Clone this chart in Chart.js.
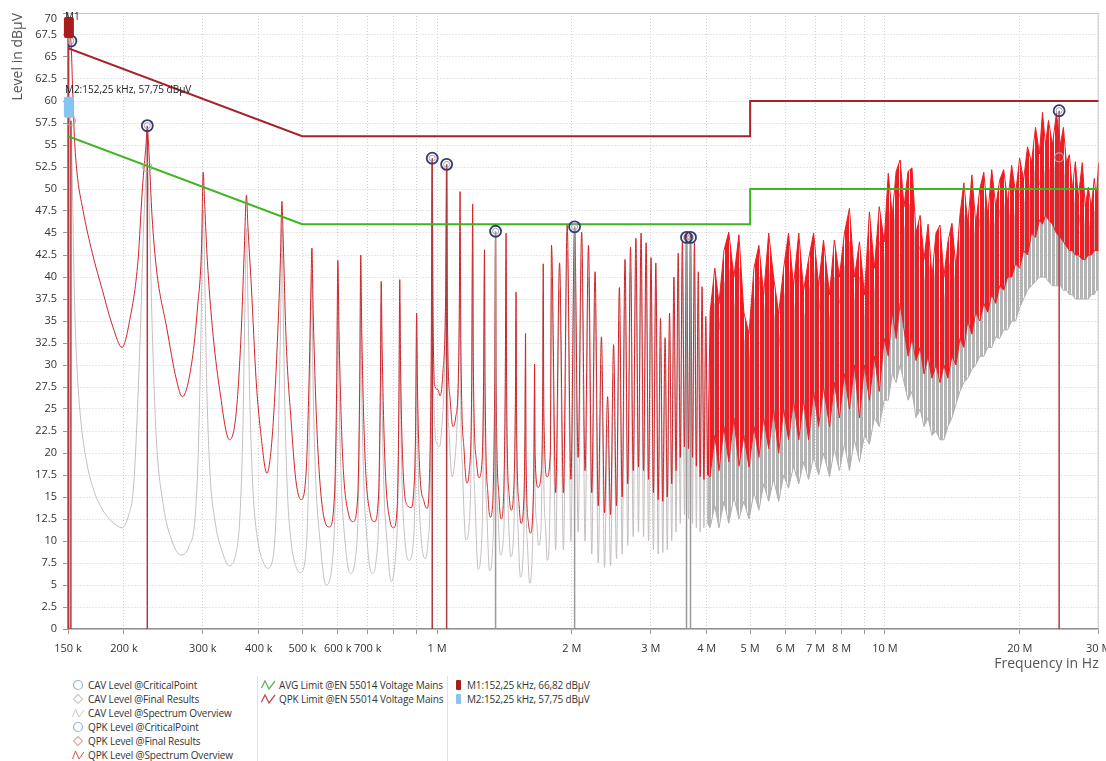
<!DOCTYPE html>
<html>
<head>
<meta charset="utf-8">
<script src="https://cdn.jsdelivr.net/npm/chart.js@4"></script>
<style>
  html, body { margin: 0; padding: 0; background: #fff; }
  body { width: 1106px; height: 761px; position: relative; overflow: hidden; font-family: "Open Sans", sans-serif; }
  #chart { position: absolute; left: 0; top: 0; }
  .col { position: absolute; top: 678px; }
  .item { height: 14px; line-height: 14px; font-size: 10px; color: #333; white-space: nowrap; letter-spacing: -0.15px; display: flex; align-items: center; }
  .item svg { margin-right: 3px; flex: none; }
  .sep { position: absolute; top: 676px; width: 1px; height: 85px; background: #e2e2e2; }
</style>
</head>
<body>
<canvas id="chart" width="1106" height="672"></canvas>

<div class="col" style="left:72px">
  <div class="item"><svg width="13" height="12"><circle cx="6" cy="6" r="4.5" fill="none" stroke="#9bb5d8" stroke-width="1.2"/></svg>CAV Level @CriticalPoint</div>
  <div class="item"><svg width="13" height="12"><path d="M6 1.5 L10.5 6 L6 10.5 L1.5 6 Z" fill="none" stroke="#c9c9c9" stroke-width="1.2"/></svg>CAV Level @Final Results</div>
  <div class="item"><svg width="13" height="12"><path d="M0.5 10 L3.5 2 L7 10 L12 3" fill="none" stroke="#c9c9c9" stroke-width="1"/></svg>CAV Level @Spectrum Overview</div>
  <div class="item"><svg width="13" height="12"><circle cx="6" cy="6" r="4.5" fill="none" stroke="#9bb5d8" stroke-width="1.2"/></svg>QPK Level @CriticalPoint</div>
  <div class="item"><svg width="13" height="12"><path d="M6 1.5 L10.5 6 L6 10.5 L1.5 6 Z" fill="none" stroke="#e3a7a7" stroke-width="1.2"/></svg>QPK Level @Final Results</div>
  <div class="item"><svg width="13" height="12"><path d="M0.5 10 L3.5 2 L7 10 L12 3" fill="none" stroke="#d9534f" stroke-width="1"/></svg>QPK Level @Spectrum Overview</div>
</div>
<div class="sep" style="left:257px"></div>
<div class="col" style="left:261px">
  <div class="item"><svg width="15" height="12"><path d="M0.5 9 L4 2 L8 10 L14 2" fill="none" stroke="#5cb85c" stroke-width="1.3"/></svg>AVG Limit @EN 55014 Voltage Mains</div>
  <div class="item"><svg width="15" height="12"><path d="M0.5 9 L4 2 L8 10 L14 2" fill="none" stroke="#c0504d" stroke-width="1.3"/></svg>QPK Limit @EN 55014 Voltage Mains</div>
</div>
<div class="sep" style="left:447px"></div>
<div class="col" style="left:455px">
  <div class="item"><svg width="9" height="12"><rect x="1" y="1" width="5" height="10" rx="1" fill="#a81c1c"/></svg>M1:152,25 kHz, 66,82 dBµV</div>
  <div class="item"><svg width="9" height="12"><rect x="1" y="1" width="5" height="10" rx="1" fill="#86c5ef"/></svg>M2:152,25 kHz, 57,75 dBµV</div>
</div>

<script>
// ---- axis ticks ----
const X_TICK_HZ = [150e3, 200e3, 300e3, 400e3, 500e3, 600e3, 700e3, 800e3, 900e3,
  1e6, 2e6, 3e6, 4e6, 5e6, 6e6, 7e6, 8e6, 9e6, 10e6, 20e6, 30e6];
const X_TICK_LABELS = ['150 k', '200 k', '300 k', '400 k', '500 k', '600 k', '700 k', '', '',
  '1 M', '2 M', '3 M', '4 M', '5 M', '6 M', '7 M', '8 M', '', '10 M', '20 M', '30 M'];
const Y_MAX = 70;

// ---- limits (EN 55014 voltage mains), kHz / dBµV ----
const LIMIT_KHZ = [150, 500, 5000, 5000, 30000];
const QPK_LIMIT = [66, 56, 56, 60, 60];
const AVG_LIMIT = [56, 46, 46, 50, 50];

// ---- spectrum 150 kHz .. 1.84 MHz, [kHz, dBµV] ----
const QPK_LOW = [
  [150, 66.0], [151.2, 67.3], [152.25, 66.8], [153.5, 62], [155, 56], [157, 52], [162, 47.6], [170, 42.7],
  [179, 38.5], [189, 34.3], [198, 32.0], [206, 35.1], [215, 41.9], [220, 50.2], [224, 55], [225.5, 57.0],
  [227.5, 54], [231, 47], [236.5, 40.8], [249, 34.3], [262, 28.3], [270, 26.4], [284, 30.6], [292, 36.6],
  [298, 43.4], [300.5, 51.9], [303, 48], [307, 41.9], [315, 34.3], [326.5, 27.5], [344, 21.5], [356, 24.5],
  [365, 33.2], [371, 42.7], [375.5, 49.3], [378, 46], [385, 38.9], [394.5, 28.3], [405, 21.8], [417, 17.7],
  [428, 21.5], [439, 31.4], [447, 42], [450.5, 48.6], [453, 45], [460, 33.2], [472, 23.8], [484, 16.9],
  [497, 14.7], [510, 17.7], [517.5, 27.5], [523, 38.9], [525.5, 43.3],
  [529, 36], [540, 22], [560, 12.5], [575, 11.6], [590, 15], [597, 28], [600.5, 41.9],
  [604, 34], [615, 20], [635, 13], [650, 12.2], [665, 15], [672, 28], [675.5, 42.5],
  [679, 34], [690, 20], [710, 13], [725, 12.2], [740, 15], [747, 27], [750.5, 39.5],
  [754, 32], [765, 19], [785, 12.3], [800, 11.5], [815, 14], [822, 26], [825.5, 39.7],
  [829, 30], [840, 18], [860, 14], [875, 13.8], [885, 15], [895, 22], [900.5, 35.9],
  [904, 28], [915, 18], [935, 14.5], [950, 13.7], [960, 16], [970, 30], [975.5, 53.3],
  [980, 35], [990, 27.5], [1005, 27.2], [1015, 26.5], [1030, 29], [1045, 38], [1050.5, 52.7],
  [1055, 35], [1070, 26], [1085, 23], [1100, 24], [1115, 28], [1121, 36], [1125.5, 49.7],
  [1130, 33], [1150, 20], [1165, 16.6], [1180, 18], [1195, 28], [1201, 48.3],
  [1205, 30], [1225, 19], [1240, 17.2], [1260, 19], [1270, 28], [1276, 43.1],
  [1280, 28], [1300, 15], [1315, 12.7], [1330, 14], [1345, 28], [1351, 45.1],
  [1355, 28], [1375, 15], [1390, 12.5], [1405, 14], [1420, 28], [1426, 45.0],
  [1430, 27], [1450, 15], [1465, 13.5], [1480, 15], [1496, 26], [1501, 38.3],
  [1505, 24], [1525, 14], [1540, 12.0], [1560, 14], [1571, 22], [1576, 33.6],
  [1580, 20], [1600, 12], [1615, 10.9], [1635, 13], [1646, 20], [1651, 30.1],
  [1655, 20], [1680, 16.1], [1710, 18], [1722, 28], [1726, 41.5],
  [1731, 25], [1760, 17.3], [1790, 20], [1801, 43.6], [1840, 15.5]
];
const CAV_LOW = [
  [150, 55], [151.2, 58.5], [152.25, 57.75], [153.5, 50], [155, 38], [157, 30], [160, 24], [165, 19],
  [172, 15.5], [181, 13.2], [190, 12], [198, 11.5], [205, 13], [210, 16], [214, 24], [218, 35], [221, 45],
  [225.5, 52.5], [228, 47], [231, 35], [236, 22], [245, 14], [256, 10], [268, 8.4], [280, 9.5], [288, 12.4],
  [293, 20], [297, 33], [300.5, 47.6], [303, 40], [306, 28], [311, 18], [320, 12], [333, 8.5], [343, 7.2],
  [356, 8.7], [364, 14], [369, 24], [372, 35], [375.5, 45.5], [378, 38], [382, 26], [388, 16], [398, 10],
  [410, 7.5], [418, 6.9], [430, 8], [438, 14], [444, 26], [448, 37], [450.5, 45.5], [453, 38], [457, 26],
  [463, 16], [472, 10], [485, 7], [495, 6.4], [508, 8], [515, 14], [520, 26], [525.5, 40.5],
  [528, 30], [535, 18], [548, 10], [565, 5.0], [582, 7], [592, 14], [597, 25], [600.5, 39],
  [603, 30], [610, 18], [623, 10], [640, 6.3], [657, 8], [667, 14], [672, 25], [675.5, 40],
  [678, 30], [685, 18], [698, 10], [715, 6.3], [732, 8], [742, 14], [747, 25], [750.5, 37],
  [753, 28], [760, 17], [773, 10], [790, 5.4], [807, 8], [817, 14], [822, 25], [825.5, 37],
  [828, 28], [835, 17], [848, 10], [865, 7.8], [882, 9], [892, 14], [897, 22], [900.5, 33],
  [903, 25], [910, 16], [923, 10], [940, 8], [955, 10], [965, 15], [971, 28], [975.5, 50],
  [978, 35], [985, 25], [1000, 21], [1012, 20.7], [1025, 23], [1040, 30], [1046, 38], [1050.5, 49],
  [1053, 33], [1065, 22], [1080, 17.3], [1095, 19], [1110, 24], [1120, 32], [1125.5, 45],
  [1128, 30], [1140, 18], [1160, 10.1], [1180, 12], [1193, 22], [1201, 44],
  [1203, 28], [1215, 15], [1235, 6.8], [1255, 9], [1267, 18], [1276, 40],
  [1278, 25], [1290, 14], [1310, 6.6], [1330, 9], [1342, 18], [1351, 45.2],
  [1353, 25], [1365, 14], [1385, 8.4], [1405, 10], [1417, 18], [1426, 42],
  [1428, 25], [1440, 14], [1460, 8.2], [1480, 10], [1492, 18], [1501, 35],
  [1503, 22], [1515, 12], [1535, 5.9], [1555, 8], [1567, 15], [1576, 30],
  [1578, 18], [1590, 10], [1610, 5.2], [1630, 8], [1642, 15], [1651, 27],
  [1653, 18], [1670, 12], [1685, 9.5], [1705, 11], [1717, 20], [1726, 38],
  [1728, 22], [1745, 12], [1762, 7.8], [1780, 10], [1792, 20], [1801, 40], [1840, 9]
];

// ---- harmonics 1.88 .. 4 MHz (peak / following valley), kHz / dBµV ----
const MID_PEAK_KHZ = [1877, 1952, 2028, 2103, 2178, 2253, 2328, 2403, 2478, 2553,
  2628, 2703, 2779, 2854, 2929, 3004, 3079, 3154, 3229, 3304,
  3379, 3454, 3529, 3605, 3680, 3755, 3830, 3905, 3980];
const MID_QPK_PEAK = [41.6, 45.9, 45.7, 45.1, 43.6, 40.6, 33.2, 26.4, 32.3, 38.8,
  42.0, 43.4, 44.4, 45.0, 43.9, 42.2, 41.6, 35.3, 33.1, 35.9,
  40.0, 42.7, 44.0, 45.0, 44.8, 43.9, 40.6, 38.9, 35.5];
const MID_CAV_PEAK = [38.5, 43, 45.7, 42, 40, 37, 30, 23, 29, 35,
  39, 40.5, 41.5, 42, 41, 39, 38.5, 32, 30, 33,
  37, 39.5, 41, 44.5, 44.5, 41, 37.5, 36, 32.5];
const MID_VALLEY_KHZ = [1915, 1990, 2065, 2140, 2215, 2290, 2365, 2440, 2515, 2590,
  2665, 2741, 2816, 2891, 2966, 3041, 3116, 3191, 3266, 3341,
  3416, 3491, 3567, 3642, 3717, 3792, 3867, 3942, 4017];
const MID_QPK_VALLEY = [15.5, 17, 19.5, 18, 15.5, 14, 13.2, 13, 14, 15,
  16.5, 18, 18.4, 18, 17, 15.5, 14.7, 14.5, 15, 16.5,
  18, 19.5, 20.7, 20.5, 19.5, 18.5, 17.3, 17, 17.5];
const MID_CAV_VALLEY = [9, 10, 11, 10, 8.5, 7.5, 7, 7.2, 8, 8.5,
  9.5, 10.5, 11, 10.5, 10, 9, 8.5, 8.7, 9, 10,
  11, 12, 13, 12.5, 12, 11.5, 11, 11.5, 12];

// ---- dense part 4 .. 30 MHz: upper / lower envelope, MHz / dBµV ----
const BAND_MHZ = [4.02, 4.07, 4.17, 4.26, 4.37, 4.48, 4.60, 4.72, 4.84, 4.97, 5.10,
  5.23, 5.36, 5.50, 5.64, 5.79, 5.94, 6.09, 6.25, 6.42, 6.58,
  6.75, 6.93, 7.11, 7.29, 7.52, 7.71, 7.91, 8.12, 8.33, 8.55,
  8.77, 9.00, 9.23, 9.47, 9.71, 9.96, 10.17, 10.38, 10.59, 10.81,
  11.03, 11.26, 11.49, 11.73, 11.98, 12.22, 12.48, 12.73, 13.00, 13.27,
  13.54, 13.82, 14.11, 14.40, 14.70, 15.00, 15.31, 15.63, 15.95, 16.28,
  16.62, 16.96, 17.31, 17.67, 18.03, 18.41, 18.79, 19.18, 19.57, 19.98,
  20.39, 20.81, 21.24, 21.68, 22.13, 22.47, 22.82, 23.17, 23.65, 24.14,
  24.64, 25.02, 25.41, 25.80, 26.20, 26.61, 27.02, 27.57, 28.00, 28.44,
  28.88, 29.33, 29.63, 30.00];
const QPK_TOP = [17.5, 36, 41, 37, 43, 45.1, 40, 44.8, 36, 33.6, 41,
  43.6, 38, 45, 40, 35.9, 41, 45, 39, 45, 38.4,
  42, 45, 39, 44.2, 38, 44.2, 40, 45, 47.8, 40,
  44, 38, 47.4, 41, 48, 44, 51.8, 47, 52, 53.3,
  48, 52, 52.4, 45, 47, 42, 46, 40, 45, 45.9,
  40, 44, 46.1, 41, 47, 50.7, 46, 51.6, 46, 50,
  51.9, 47, 52.2, 48, 51, 52.2, 48.5, 52.7, 49.5, 53.5,
  51, 54.8, 53, 57, 54, 58.7, 55, 57.8, 55, 58.6,
  55, 57, 53, 53.9, 50, 53.1, 49, 53, 48, 50.2,
  48, 51.2, 49, 53];
const QPK_BOTTOM = [17.5, 17.3, 22, 18, 23, 19, 24, 18.5, 22, 18.4, 23,
  19.5, 24, 20.5, 25, 20, 25, 21.5, 26, 21.5, 26,
  21.5, 27, 23, 27.5, 23, 28, 24, 29, 25, 30,
  24, 30, 26, 31, 27, 33, 31, 36, 33, 37,
  34, 31, 33, 30.5, 32, 29, 31, 28.5, 30, 28,
  30, 28.5, 31, 30, 33, 32, 35, 33.5, 36, 35,
  37, 36, 38, 37, 39, 38.5, 40, 40, 41.5, 41,
  43, 42.5, 45, 44.5, 46.5, 46, 47, 46.5, 46, 45,
  44.5, 44, 43.5, 43, 43, 42.5, 42.5, 42, 42, 42.5,
  42.5, 43, 43, 43];
const CAV_TOP = [12, 32, 37, 34, 39, 41, 36, 41, 33, 30, 37,
  40, 35, 41, 36, 32, 37, 41, 35, 41, 35,
  38, 41, 36, 40, 35, 40, 37, 41, 44, 37,
  40, 35, 43, 38, 44, 41, 48, 44, 48, 49.5,
  45, 48, 48.5, 42, 43.5, 39, 42.5, 37, 41.5, 42,
  37, 40.5, 42.5, 38, 43.5, 47, 43, 48, 43, 46.5,
  48, 43.5, 48.5, 44.5, 47.5, 48.5, 45, 49, 46, 49.5,
  47.5, 51, 49.5, 52.5, 50.5, 53, 51, 52.5, 51, 53.6,
  51, 52.5, 49.5, 50, 46.5, 49, 45.5, 49, 44.5, 46.5,
  44.5, 47.5, 45.5, 49];
const CAV_BOTTOM = [12, 11.5, 14, 11.5, 14.5, 12, 15, 12.5, 14.5, 12.5, 15.5,
  13.5, 16.5, 14.5, 17, 14.5, 17.5, 16, 18.5, 16.5, 19,
  17, 19.5, 17.5, 20, 17.3, 20.5, 18, 21, 18, 21.5,
  19, 22, 21, 24, 23, 26, 26, 29, 28, 30,
  28, 26, 27, 24, 25, 23, 24, 22, 22.5, 21.5,
  21.5, 23, 24, 25.5, 27, 28, 28.5, 29.5, 30, 31,
  31, 32, 32, 33.2, 33, 34, 34, 35, 35, 36.5,
  37.5, 38.5, 39, 39.5, 40, 40, 40, 39.5, 39, 39,
  39, 38.5, 38.5, 38, 38, 37.5, 37.5, 37.5, 37.5, 37.5,
  38, 38, 38.5, 38.5];

// ---- critical points and final results, kHz / dBµV ----
const CRITICAL_KHZ = [152.25, 225.5, 975.5, 1050.5, 1351, 2028, 3605, 3680, 24480];
const CRITICAL_LEVEL = [66.82, 57.2, 53.5, 52.8, 45.2, 45.7, 44.5, 44.5, 58.9];
const FINAL_KHZ = [152.25, 225.5, 24480];
const FINAL_LEVEL = [57.75, 52.5, 53.6];
const QPK_STICK_KHZ = [150.5, 152.25, 225.5, 975.5, 1050.5, 24480];
const QPK_STICK_LEVEL = [66.82, 57.75, 57.2, 53.5, 52.8, 58.9];
const CAV_STICK_KHZ = [1351, 2028, 3605, 3680];
const CAV_STICK_LEVEL = [45.2, 45.7, 44.5, 44.5];

// ---- markers ----
const MARKER_KHZ = [152.25, 152.25];
const MARKER_LEVEL = [66.82, 57.75];
const MARKER_TEXT = ['M1', 'M2:152,25 kHz, 57,75 dBµV'];
const MARKER_COLOR = ['#a81c1c', '#86c5ef'];

const FONT = '"Open Sans", sans-serif';

const toXY = pairs => pairs.map(([k, v]) => ({ x: k * 1000, y: v }));
const zip = (khz, levels) => khz.map((k, i) => ({ x: k * 1000, y: levels[i] }));
const bandXY = levels => BAND_MHZ.map((m, i) => ({ x: m * 1e6, y: levels[i] }));

function zigzag(peakKHz, peaks, valleyKHz, valleys) {
  const out = [];
  peakKHz.forEach((k, i) => {
    out.push({ x: k * 1000, y: peaks[i] });
    out.push({ x: valleyKHz[i] * 1000, y: valleys[i] });
  });
  return out;
}

function sticks(khz, levels) {
  const out = [];
  khz.forEach((k, i) => {
    out.push({ x: k * 1000, y: 0 }, { x: k * 1000, y: levels[i] }, { x: k * 1000, y: null });
  });
  return out;
}

// vertical hatch so the dense band reads as many thin spectral lines
function stripes(color, w, gap) {
  const c = document.createElement('canvas');
  c.width = w + gap;
  c.height = 1;
  const g = c.getContext('2d');
  g.fillStyle = color;
  g.fillRect(0, 0, w, 1);
  return g.createPattern(c, 'repeat');
}

const lineDefaults = { pointRadius: 0, borderWidth: 1, tension: 0, fill: false, spanGaps: false };

// border on top / right of the plot, plus the top "70" label sitting a bit lower
const frame = {
  id: 'frame',
  beforeDatasetsDraw(chart) {
    const { ctx, chartArea: a } = chart;
    ctx.save();
    ctx.strokeStyle = '#c8c8c8';
    ctx.lineWidth = 1;
    ctx.beginPath();
    ctx.moveTo(a.left, a.top + 0.5);
    ctx.lineTo(a.right - 0.5, a.top + 0.5);
    ctx.lineTo(a.right - 0.5, a.bottom);
    ctx.stroke();
    ctx.font = '11px ' + FONT;
    ctx.fillStyle = '#333';
    ctx.textAlign = 'right';
    ctx.textBaseline = 'middle';
    ctx.fillText(String(Y_MAX), a.left - 11, a.top + 6);
    ctx.restore();
  }
};

// M1 / M2 marker flags
const markers = {
  id: 'markers',
  afterDatasetsDraw(chart) {
    const { ctx, scales: { x, y }, chartArea } = chart;
    ctx.save();
    MARKER_KHZ.forEach((k, i) => {
      const px = x.getPixelForValue(k * 1000) - 2;
      const py = y.getPixelForValue(MARKER_LEVEL[i]);
      const top = py - 24;
      ctx.font = '10px ' + FONT;
      ctx.fillStyle = '#222';
      ctx.textBaseline = 'middle';
      ctx.textAlign = 'left';
      ctx.fillText(MARKER_TEXT[i], px - 4, Math.max(top - 7, chartArea.top + 4));
      ctx.fillStyle = MARKER_COLOR[i];
      ctx.beginPath();
      ctx.roundRect(px - 5, top, 10, 21, 2);
      ctx.fill();
    });
    ctx.restore();
  }
};

Chart.defaults.font.family = FONT;
Chart.defaults.color = '#333';

new Chart(document.getElementById('chart'), {
  type: 'line',
  data: {
    datasets: [
      { label: 'critical', data: zip(CRITICAL_KHZ, CRITICAL_LEVEL), showLine: false,
        pointRadius: 5.5, pointBorderWidth: 1.8, pointBorderColor: '#363b6c', pointBackgroundColor: 'rgba(0,0,0,0)' },
      { label: 'critical inner', data: zip(CRITICAL_KHZ, CRITICAL_LEVEL), showLine: false,
        pointRadius: 3, pointBorderWidth: 1, pointBorderColor: '#9aa0b4', pointBackgroundColor: 'rgba(0,0,0,0)' },
      { label: 'final', data: zip(FINAL_KHZ, FINAL_LEVEL), showLine: false,
        pointRadius: 4.5, pointBorderWidth: 1.2, pointBorderColor: '#a9a9a9', pointBackgroundColor: 'rgba(0,0,0,0)' },
      { ...lineDefaults, label: 'AVG Limit', data: zip(LIMIT_KHZ, AVG_LIMIT), borderColor: '#3fb521', borderWidth: 2 },
      { ...lineDefaults, label: 'QPK Limit', data: zip(LIMIT_KHZ, QPK_LIMIT), borderColor: '#a52329', borderWidth: 2 },
      { ...lineDefaults, label: 'QPK final', data: sticks(QPK_STICK_KHZ, QPK_STICK_LEVEL), borderColor: '#b23a3e', borderWidth: 1.5 },
      { ...lineDefaults, label: 'CAV final', data: sticks(CAV_STICK_KHZ, CAV_STICK_LEVEL), borderColor: '#999999', borderWidth: 1.5 },
      { ...lineDefaults, label: 'QPK spectrum', cubicInterpolationMode: 'monotone',
        data: toXY(QPK_LOW).concat(zigzag(MID_PEAK_KHZ, MID_QPK_PEAK, MID_VALLEY_KHZ, MID_QPK_VALLEY)),
        borderColor: '#d0242a' },
      { ...lineDefaults, label: 'QPK top', data: bandXY(QPK_TOP), borderColor: '#ee1d23' },
      { ...lineDefaults, label: 'QPK bottom', data: bandXY(QPK_BOTTOM), borderColor: '#e0262b',
        fill: '-1', backgroundColor: stripes('#ee1d23', 4, 1) },
      { ...lineDefaults, label: 'CAV spectrum', cubicInterpolationMode: 'monotone',
        data: toXY(CAV_LOW).concat(zigzag(MID_PEAK_KHZ, MID_CAV_PEAK, MID_VALLEY_KHZ, MID_CAV_VALLEY)),
        borderColor: '#c6bebe' },
      { ...lineDefaults, label: 'CAV top', data: bandXY(CAV_TOP), borderColor: '#b5b5b5' },
      { ...lineDefaults, label: 'CAV bottom', data: bandXY(CAV_BOTTOM), borderColor: '#b0b0b0',
        fill: '-1', backgroundColor: stripes('#b4b4b4', 3, 1) }
    ]
  },
  options: {
    responsive: false,
    animation: false,
    devicePixelRatio: 1,
    layout: { padding: { top: 13, right: 2, bottom: 0, left: 0 } },
    plugins: { legend: { display: false }, tooltip: { enabled: false } },
    scales: {
      x: {
        type: 'logarithmic',
        min: 150e3,
        max: 30e6,
        afterBuildTicks: s => { s.ticks = X_TICK_HZ.map(v => ({ value: v })); },
        afterFit: s => { s.height = 43; s.paddingLeft = 0; s.paddingRight = 0; },
        ticks: {
          autoSkip: false,
          maxRotation: 0,
          padding: 8,
          font: { size: 11 },
          color: '#333',
          callback: v => X_TICK_LABELS[X_TICK_HZ.indexOf(v)] ?? ''
        },
        grid: { color: '#cfcfcf', tickColor: '#999', tickLength: 5, drawTicks: true },
        border: { color: '#8f8f8f', width: 1.5, dash: [1, 2] },
        title: { display: true, text: 'Frequency in Hz', align: 'end', color: '#555',
          font: { size: 14 }, padding: { top: 0, bottom: 0 } }
      },
      y: {
        min: 0,
        max: Y_MAX,
        afterFit: s => { s.width = 68; s.paddingTop = 0; s.paddingBottom = 0; },
        ticks: { stepSize: 2.5, padding: 6, font: { size: 11 }, color: '#333',
          callback: v => (v === Y_MAX ? '' : String(v)) },
        grid: { color: '#cfcfcf', tickColor: '#999', tickLength: 5 },
        border: { color: '#8f8f8f', width: 1.5, dash: [1, 2] },
        title: { display: true, text: 'Level in dBµV', align: 'end', color: '#555',
          font: { size: 14 }, padding: { top: 10, bottom: 0 } }
      }
    }
  },
  plugins: [frame, markers]
});
</script>
</body>
</html>
